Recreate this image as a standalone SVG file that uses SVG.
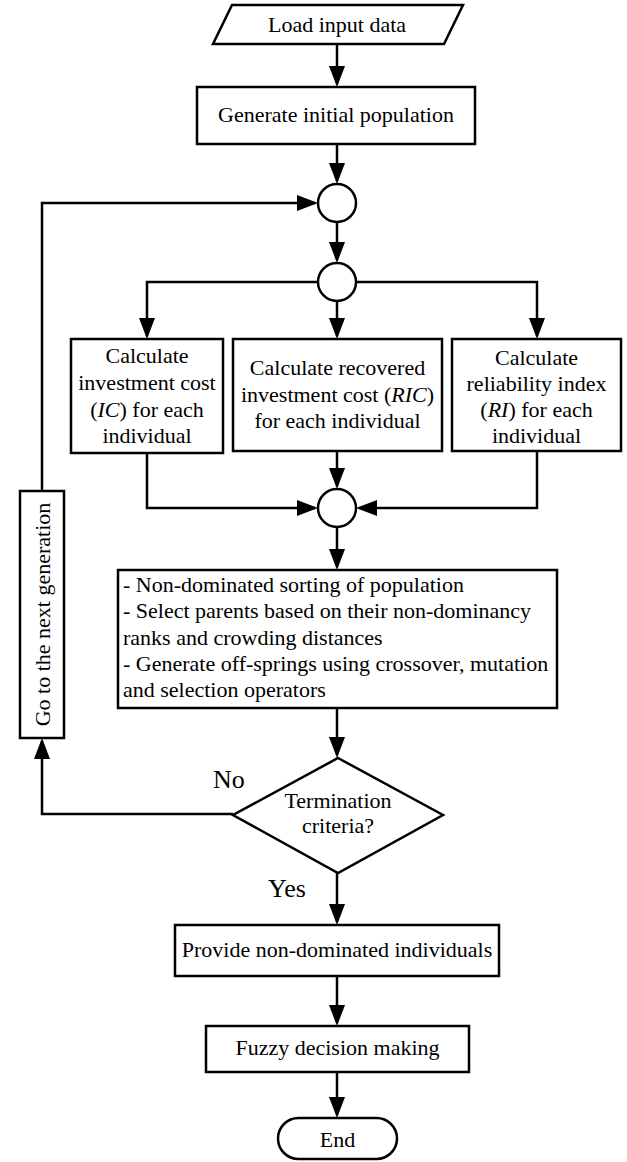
<svg xmlns="http://www.w3.org/2000/svg" width="627" height="1162" viewBox="0 0 627 1162">
<defs>
<marker id="arr" markerUnits="userSpaceOnUse" markerWidth="22" markerHeight="18" refX="18" refY="8" orient="auto">
<path d="M0,0 L21,8 L0,16 Z" fill="#000"/>
</marker>
<style>
.s{fill:#fff;stroke:#000;stroke-width:2.5}
.c{fill:none;stroke:#000;stroke-width:2.5;marker-end:url(#arr)}
text{font-family:"Liberation Serif","Times New Roman",serif;font-size:22px;fill:#000}
.m{text-anchor:middle}
.i{font-style:italic}
</style>
</defs>
<rect width="627" height="1162" fill="#fff"/>
<g id="connectors">
<path class="c" d="M337,44 V84"/>
<path class="c" d="M337,144 V181"/>
<path class="c" d="M337,222 V260"/>
<path class="c" d="M318,282 H147 V336"/>
<path class="c" d="M337,301 V336"/>
<path class="c" d="M356,282 H537 V336"/>
<path class="c" d="M147,453 V508 H315"/>
<path class="c" d="M337,451 V486"/>
<path class="c" d="M537,451 V508 H359"/>
<path class="c" d="M337,527 V567"/>
<path class="c" d="M337,708 V755"/>
<path class="c" d="M233,814 H42 V741"/>
<path class="c" d="M42,491 V203 H315"/>
<path class="c" d="M337,873 V922"/>
<path class="c" d="M337,976 V1023"/>
<path class="c" d="M337,1072 V1115"/>
</g>
<g id="load">
<polygon class="s" points="232,5 463,5 444,44 213,44"/>
<text class="m" x="337" y="32">Load input data</text>
</g>
<g id="generate">
<rect class="s" x="197" y="87" width="278" height="57"/>
<text class="m" x="336" y="122">Generate initial population</text>
</g>
<g id="junction1"><circle class="s" cx="337" cy="203" r="19"/></g>
<g id="junction2"><circle class="s" cx="337" cy="282" r="19"/></g>
<g id="calc-ic">
<rect class="s" x="71" y="339" width="152" height="114"/>
<text class="m" x="147" y="363">Calculate</text>
<text class="m" x="147" y="390">investment cost</text>
<text class="m" x="147" y="417">(<tspan class="i">IC</tspan>) for each</text>
<text class="m" x="147" y="443">individual</text>
</g>
<g id="calc-ric">
<rect class="s" x="233" y="339" width="209" height="112"/>
<text class="m" x="337.5" y="375">Calculate recovered</text>
<text class="m" x="337.5" y="402">investment cost (<tspan class="i">RIC</tspan>)</text>
<text class="m" x="337.5" y="428">for each individual</text>
</g>
<g id="calc-ri">
<rect class="s" x="452" y="339" width="169" height="112"/>
<text class="m" x="536.5" y="365">Calculate</text>
<text class="m" x="536.5" y="391">reliability index</text>
<text class="m" x="536.5" y="417">(<tspan class="i">RI</tspan>) for each</text>
<text class="m" x="536.5" y="443">individual</text>
</g>
<g id="junction3"><circle class="s" cx="337" cy="508" r="19"/></g>
<g id="nsga">
<rect class="s" x="118" y="570" width="439" height="138"/>
<text x="123" y="592">- Non-dominated sorting of population</text>
<text x="123" y="618">- Select parents based on their non-dominancy</text>
<text x="123" y="645">ranks and crowding distances</text>
<text x="123" y="671">- Generate off-springs using crossover, mutation</text>
<text x="123" y="697">and selection operators</text>
</g>
<g id="next-gen">
<rect class="s" x="20" y="491" width="44" height="247"/>
<text class="m" transform="translate(50,614.5) rotate(-90)" x="0" y="0">Go to the next generation</text>
</g>
<g id="termination">
<polygon class="s" points="338,758 443,815 338,873 233,815"/>
<text class="m" x="338" y="808">Termination</text>
<text class="m" x="338" y="833">criteria?</text>
</g>
<g id="labels">
<text x="213" y="788" style="font-size:26px">No</text>
<text x="268" y="897" style="font-size:26px">Yes</text>
</g>
<g id="provide">
<rect class="s" x="175" y="925" width="324" height="51"/>
<text class="m" x="337" y="957">Provide non-dominated individuals</text>
</g>
<g id="fuzzy">
<rect class="s" x="206" y="1026" width="263" height="46"/>
<text class="m" x="337.5" y="1055">Fuzzy decision making</text>
</g>
<g id="end">
<rect class="s" x="278" y="1118" width="119" height="41" rx="20.5" ry="20.5"/>
<text class="m" x="337.5" y="1147">End</text>
</g>
</svg>
